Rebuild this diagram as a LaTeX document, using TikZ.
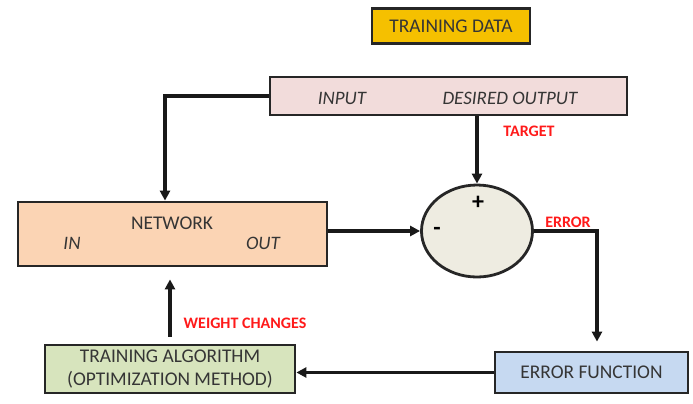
\documentclass[tikz,border=0pt]{standalone}
\usepackage{fontspec}
\setmainfont{Carlito}
\usepackage{tikz}
\usetikzlibrary{arrows.meta,shapes.geometric}

\definecolor{txtgray}{HTML}{353535}
\definecolor{datafill}{HTML}{F5C000}
\definecolor{inputfill}{HTML}{F2DCDB}
\definecolor{netfill}{HTML}{FBD4B4}
\definecolor{sumfill}{HTML}{EEECE1}
\definecolor{algofill}{HTML}{D7E4BD}
\definecolor{errfill}{HTML}{C6D9F1}
\definecolor{lblred}{HTML}{FF1A1A}

\begin{document}
\begin{tikzpicture}[
  x=0.5pt, y=-0.5pt,
  box/.style={rectangle, draw=black!85, line width=1.4pt,
              text=txtgray, font=\fontsize{9.7}{11.5}\selectfont,
              inner sep=0pt, align=center},
  lbl/.style={text=txtgray, inner sep=0pt,
              font=\fontsize{9.5}{11}\selectfont\itshape},
  redlbl/.style={text=lblred, inner sep=0pt,
                 font=\fontsize{8}{9}\selectfont\bfseries},
  arr/.style={line width=1.7pt, black!90,
              -{Triangle[length=5pt, width=5pt]}},
]
\useasboundingbox (0,0) rectangle (693,403);

% boxes
\node[box, fill=datafill, minimum width=79pt, minimum height=17.5pt]
  (data) at (451,26) {TRAINING DATA};
\node[box, fill=inputfill, minimum width=178.5pt, minimum height=19pt]
  (input) at (448.5,96) {};
\node[box, fill=netfill, minimum width=154.5pt, minimum height=32pt]
  (net) at (172.5,234) {};
\node[box, ellipse, fill=sumfill, minimum width=55.5pt, minimum height=46pt]
  (sum) at (477,231) {};
\node[box, fill=algofill, minimum width=125pt, minimum height=24pt]
  (algo) at (170,369) {TRAINING ALGORITHM\\(OPTIMIZATION METHOD)};
\node[box, fill=errfill, minimum width=96.5pt, minimum height=20.5pt]
  (errfn) at (591.5,372.5) {ERROR FUNCTION};

% texts inside the boxes
\node[lbl] (inlbl) at (342,98) {INPUT};
\node[lbl] (desired) at (510,98) {DESIRED OUTPUT};
\node[box, draw=none] (netlbl) at (172,223) {NETWORK};
\node[lbl] (netin) at (72,243) {IN};
\node[lbl] (netout) at (263,243) {OUT};
\node[text=black, font=\large\bfseries] (plus) at (478,203) {+};
\node[text=black, font=\large\bfseries] (minus) at (437,231) {-};

% red labels
\node[redlbl] (target) at (529,131) {TARGET};
\node[redlbl] (error) at (568,222) {ERROR};
\node[redlbl] (weight) at (245,323) {WEIGHT CHANGES};

% connectors
\draw[arr] (input.west) -| ([xshift=-3.75pt]net.north);
\draw[arr] (sum.north |- input.south) -- (sum.north);
\draw[arr] (net.east |- sum.west) -- (sum.west);
\draw[arr, shorten >=4.5pt] (sum.east) -| ([xshift=2.75pt]errfn.north);
\draw[arr] (errfn.west) -- (errfn.west -| algo.east);
\draw[arr, shorten <=3.5pt, shorten >=6pt] (algo.north) -- (algo.north |- net.south);
\end{tikzpicture}
\end{document}
